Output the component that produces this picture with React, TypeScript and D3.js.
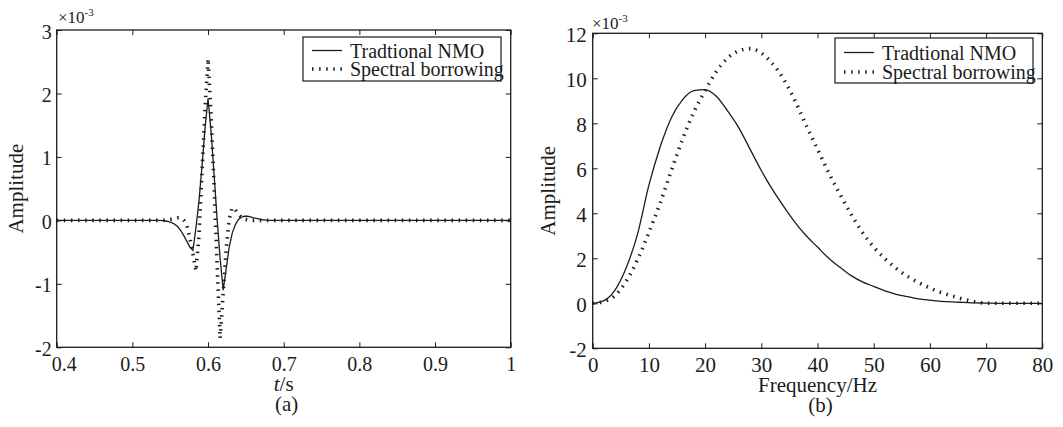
import { useEffect, useRef } from 'react';
import * as d3 from 'd3';

// (a) time-domain wavelets, amplitude x1e-3
const timeSec = [
  0.4, 0.536, 0.54, 0.544, 0.548, 0.552, 0.556, 0.56, 0.564, 0.568, 0.572, 0.576, 0.58,
  0.584, 0.588, 0.592, 0.596, 0.6, 0.604, 0.608, 0.612, 0.616, 0.62, 0.624, 0.628,
  0.632, 0.636, 0.64, 0.644, 0.648, 0.652, 0.656, 0.66, 0.664, 0.668, 0.672, 0.676, 0.68, 1.0,
];
const nmoWavelet = [
  0, 0, -0.005, -0.01, -0.02, -0.035, -0.06, -0.1, -0.16, -0.24, -0.33, -0.42, -0.47,
  -0.12, 0.3, 0.85, 1.45, 1.92, 1.4, 0.72, 0.02, -0.6, -1.1, -0.76, -0.42,
  -0.2, -0.07, 0.01, 0.05, 0.065, 0.065, 0.055, 0.04, 0.03, 0.02, 0.01, 0.005, 0, 0,
];
const borrowWavelet = [
  0, 0, 0, 0.005, 0.01, 0.02, 0.03, 0.04, 0.04, 0, -0.08, -0.28, -0.52,
  -0.8, -0.25, 0.75, 1.75, 2.55, 1.65, 0.55, -0.7, -1.86, -1.15, -0.45, 0.02,
  0.2, 0.17, 0.1, 0.05, 0.02, 0.01, 0, 0, 0, 0, 0, 0, 0, 0,
];

// (b) amplitude spectra, x1e-3
const freqHz = d3.range(0, 81, 2);
const nmoSpectrum = [
  0, 0.12, 0.6, 1.6, 3.1, 5.25, 6.95, 8.25, 9.05, 9.45, 9.5, 9.2, 8.55, 7.8, 6.85,
  5.9, 5.05, 4.3, 3.6, 3.0, 2.5, 2.0, 1.6, 1.23, 0.95, 0.75, 0.55, 0.4, 0.3, 0.2,
  0.14, 0.09, 0.06, 0.04, 0.02, 0.01, 0, 0, 0, 0, 0,
];
const borrowSpectrum = [
  0, 0.08, 0.35, 1.0, 1.95, 3.15, 4.45, 5.9, 7.3, 8.5, 9.45, 10.3, 10.9, 11.22, 11.32,
  11.12, 10.65, 9.95, 9.0, 7.9, 6.85, 5.8, 4.85, 3.95, 3.15, 2.5, 1.98, 1.55, 1.2, 0.92,
  0.68, 0.48, 0.32, 0.18, 0.07, 0, 0, 0, 0, 0, 0,
];

const timeTicks = [0.4, 0.5, 0.6, 0.7, 0.8, 0.9, 1];
const ampTicksA = [-2, -1, 0, 1, 2, 3];
const freqTicks = [0, 10, 20, 30, 40, 50, 60, 70, 80];
const ampTicksB = [-2, 0, 2, 4, 6, 8, 10, 12];
const legendLabels = ['Tradtional NMO', 'Spectral borrowing'];

const FONT = '"Liberation Serif", "Times New Roman", serif';
const INK = '#1c1c1c';
const DOTS = '1.5 5.6';

function drawPanel(svg, cfg) {
  const x = d3.scaleLinear().domain(cfg.xDomain).range([cfg.left, cfg.right]);
  const y = d3.scaleLinear().domain(cfg.yDomain).range([cfg.bottom, cfg.top]);
  const g = svg.append('g');
  const fs = cfg.fontSize;

  const line = d3
    .line()
    .x((d) => x(d[0]))
    .y((d) => y(d[1]))
    .curve(cfg.curve);

  const solid = cfg.xs.map((v, i) => [v, cfg.solid[i]]);
  const dotted = cfg.xs.map((v, i) => [v, cfg.dotted[i]]);

  g.append('path')
    .attr('d', line(solid))
    .attr('fill', 'none')
    .attr('stroke', INK)
    .attr('stroke-width', 1.3);

  g.append('path')
    .attr('d', line(dotted))
    .attr('fill', 'none')
    .attr('stroke', INK)
    .attr('stroke-width', 3.6)
    .attr('stroke-dasharray', DOTS);

  const styleAxis = (sel) => {
    sel.select('.domain').remove();
    sel.selectAll('line').attr('stroke', INK).attr('stroke-width', 1);
    sel.selectAll('text')
      .attr('fill', INK)
      .style('font-family', FONT)
      .style('font-size', `${fs}px`);
  };

  const fmt = (v) => `${v}`;

  g.append('g')
    .attr('transform', `translate(0,${cfg.bottom})`)
    .call(d3.axisBottom(x).tickValues(cfg.xTicks).tickSize(-5).tickPadding(cfg.xPad).tickFormat(fmt))
    .call(styleAxis)
    .call((a) => a.selectAll('text').filter((d) => d === cfg.xTicks[0]).attr('dx', cfg.firstDx));

  g.append('g')
    .attr('transform', `translate(0,${cfg.top})`)
    .call(d3.axisTop(x).tickValues(cfg.xTicks).tickSize(-5).tickFormat(() => ''))
    .call(styleAxis);

  g.append('g')
    .attr('transform', `translate(${cfg.left},0)`)
    .call(d3.axisLeft(y).tickValues(cfg.yTicks).tickSize(-5).tickPadding(cfg.yPad).tickFormat(fmt))
    .call(styleAxis)
    .call((a) => a.selectAll('text').attr('dy', '0.4em'));

  g.append('g')
    .attr('transform', `translate(${cfg.right},0)`)
    .call(d3.axisRight(y).tickValues(cfg.yTicks).tickSize(-5).tickFormat(() => ''))
    .call(styleAxis);

  g.append('rect')
    .attr('x', cfg.left)
    .attr('y', cfg.top)
    .attr('width', cfg.right - cfg.left)
    .attr('height', cfg.bottom - cfg.top)
    .attr('fill', 'none')
    .attr('stroke', INK)
    .attr('stroke-width', 1.3);

  // exponent
  const ex = g.append('text')
    .attr('x', cfg.expo[0])
    .attr('y', cfg.expo[1])
    .attr('fill', INK)
    .style('font-family', FONT)
    .style('font-size', '17px');
  ex.append('tspan').text('×10');
  ex.append('tspan').attr('dy', -7).style('font-size', '11px').text('-3');

  // y label
  g.append('text')
    .attr('transform', `translate(${cfg.yLabelX},${(cfg.top + cfg.bottom) / 2}) rotate(-90)`)
    .attr('text-anchor', 'middle')
    .attr('fill', INK)
    .style('font-family', FONT)
    .style('font-size', '21px')
    .text('Amplitude');

  // x label
  const xl = g.append('text')
    .attr('x', (cfg.left + cfg.right) / 2)
    .attr('y', cfg.xLabelY)
    .attr('text-anchor', 'middle')
    .attr('fill', INK)
    .style('font-family', FONT)
    .style('font-size', '21px');
  cfg.xLabel.forEach(([t, italic]) => {
    xl.append('tspan').style('font-style', italic ? 'italic' : 'normal').text(t);
  });

  g.append('text')
    .attr('x', (cfg.left + cfg.right) / 2 + 3)
    .attr('y', cfg.captionY)
    .attr('text-anchor', 'middle')
    .attr('fill', INK)
    .style('font-family', FONT)
    .style('font-size', '21px')
    .text(cfg.caption);

  // legend
  const lg = cfg.legend;
  g.append('rect')
    .attr('x', lg.x)
    .attr('y', lg.y)
    .attr('width', lg.w)
    .attr('height', lg.h)
    .attr('fill', '#fff')
    .attr('stroke', INK)
    .attr('stroke-width', 1.2);

  legendLabels.forEach((label, i) => {
    const cy = lg.rows[i];
    g.append('line')
      .attr('x1', lg.x + 9)
      .attr('x2', lg.x + 39)
      .attr('y1', cy)
      .attr('y2', cy)
      .attr('stroke', INK)
      .attr('stroke-width', i === 0 ? 1.3 : 3.6)
      .attr('stroke-dasharray', i === 0 ? null : DOTS);
    g.append('text')
      .attr('x', lg.x + 47)
      .attr('y', cy + 7)
      .attr('fill', INK)
      .style('font-family', FONT)
      .style('font-size', '20px')
      .text(label);
  });
}

const App = () => {
  const ref = useRef(null);

  useEffect(() => {
    const svg = d3.select(ref.current);
    svg.selectAll('*').remove();

    drawPanel(svg, {
      left: 56.7,
      right: 510.7,
      top: 30,
      bottom: 347.3,
      xDomain: [0.4, 1],
      yDomain: [-2, 3],
      xTicks: timeTicks,
      yTicks: ampTicksA,
      xs: timeSec,
      solid: nmoWavelet,
      dotted: borrowWavelet,
      curve: d3.curveLinear,
      fontSize: 20,
      xPad: 10,
      yPad: 5,
      firstDx: 7,
      expo: [58, 23],
      yLabelX: 23,
      xLabelY: 391,
      xLabel: [['t', true], ['/s', false]],
      captionY: 411,
      caption: '(a)',
      legend: { x: 303, y: 37, w: 198, h: 44, rows: [50.5, 69] },
    });

    drawPanel(svg, {
      left: 592.7,
      right: 1042.3,
      top: 33.3,
      bottom: 348.3,
      xDomain: [0, 80],
      yDomain: [-2, 12],
      xTicks: freqTicks,
      yTicks: ampTicksB,
      xs: freqHz,
      solid: nmoSpectrum,
      dotted: borrowSpectrum,
      curve: d3.curveMonotoneX,
      fontSize: 21,
      xPad: 9,
      yPad: 6,
      firstDx: 0,
      expo: [592, 29],
      yLabelX: 555,
      xLabelY: 392,
      xLabel: [['Frequency/Hz', false]],
      captionY: 412,
      caption: '(b)',
      legend: { x: 835, y: 38, w: 198, h: 45, rows: [52.5, 72] },
    });
  }, []);

  return (
    <svg
      ref={ref}
      width={1063}
      height={427}
      style={{ position: 'absolute', left: 0, top: 0, background: '#fff' }}
    />
  );
};

export default App;
